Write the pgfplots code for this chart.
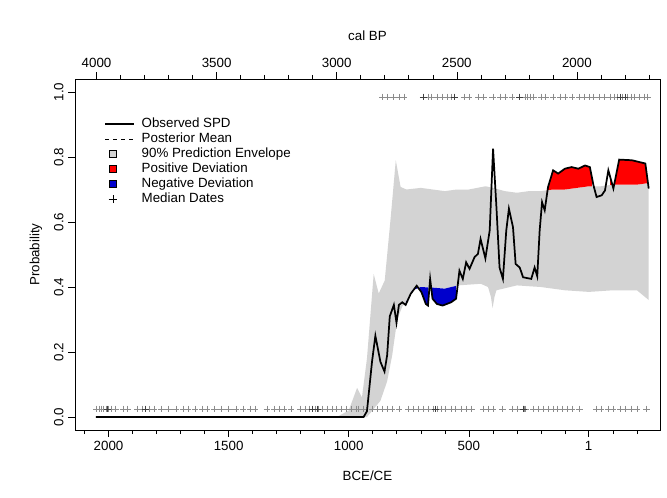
\documentclass[border=0pt]{standalone}
\usepackage{pgfplots}
\pgfplotsset{compat=1.18}
\usepgfplotslibrary{fillbetween}
\usepackage{fontspec}
\setmainfont{Liberation Sans}
\definecolor{envgray}{RGB}{211,211,211}
\begin{document}
\begin{tikzpicture}
\pgfplotsset{every axis/.style={scale only axis, width=438.75pt, height=263.25pt,
  xmin=-296, xmax=2140, x dir=reverse, ymin=-0.04, ymax=1.04,
  tick align=outside, major tick length=5pt, minor tick length=3pt,
  tick style={black, thin}, font=\fontsize{10}{12}\selectfont,
  /pgf/number format/assume math mode=true}}
\begin{axis}[
  axis x line*=bottom, axis y line*=left,
  xtick={2000,1500,1000,500,1}, xticklabels={2000,1500,1000,500,1},
  minor xtick={2100,1900,1800,1700,1600,1400,1300,1200,1100,900,800,700,600,400,300,200,100,-100,-200},
  ytick={0,0.2,0.4,0.6,0.8,1}, yticklabels={0.0,0.2,0.4,0.6,0.8,1.0},
  yticklabel style={rotate=90, anchor=south},
  xlabel={BCE/CE}, ylabel={Probability},
  xlabel style={yshift=-8pt}, ylabel style={yshift=2pt},
  clip=false,
  legend style={draw=none, fill=none, at={(rel axis cs:0.05,0.895)}, anchor=north west,
    font=\fontsize{10}{12}\selectfont, row sep=-0.5pt, inner sep=0pt,
    nodes={inner sep=1.5pt}},
  legend cell align=left,
]
\path (rel axis cs:-0.128,-0.191) rectangle (rel axis cs:1.012,1.225);
\draw[black] (rel axis cs:0,0) rectangle (rel axis cs:1,1);
\addlegendimage{legend image code/.code={\draw[line width=1.3pt,black] (0cm,0cm) -- (0.75cm,0cm); \path (0.9cm,0cm);}}\addlegendentry{Observed SPD}
\addlegendimage{legend image code/.code={\draw[dashed,black] (0cm,0cm) -- (0.75cm,0cm); \path (0.9cm,0cm);}}\addlegendentry{Posterior Mean}
\addlegendimage{legend image code/.code={\draw[fill=envgray,draw=black] (0.1cm,-0.1cm) rectangle (0.3cm,0.1cm);}}\addlegendentry{90\% Prediction Envelope}
\addlegendimage{legend image code/.code={\draw[fill=red,draw=black] (0.1cm,-0.1cm) rectangle (0.3cm,0.1cm);}}\addlegendentry{Positive Deviation}
\addlegendimage{legend image code/.code={\draw[fill=blue!80!black,draw=black] (0.1cm,-0.1cm) rectangle (0.3cm,0.1cm);}}\addlegendentry{Negative Deviation}
\addlegendimage{legend image code/.code={\draw[black] (0.2cm,-0.11cm) -- (0.2cm,0.11cm) (0.09cm,0cm) -- (0.31cm,0cm);}}\addlegendentry{Median Dates}

\addplot[name path=up, draw=none, forget plot] coordinates {
(2053,0) (1050,0) (1000,0.02) (965,0.09) (945,0.06) (924,0.18) (896,0.44) (875,0.38) (850,0.42) (825,0.615) (804,0.79) (784,0.708) (760,0.70) (700,0.705) (650,0.70) (600,0.695) (550,0.70) (500,0.70) (430,0.71) (400,0.705) (350,0.695) (300,0.69) (250,0.695) (200,0.695) (150,0.70) (100,0.70) (50,0.705) (0,0.71) (-50,0.71) (-100,0.715) (-200,0.715) (-249,0.72)};
\addplot[name path=lo, draw=none, forget plot] coordinates {
(2053,0) (924,0) (868,0.05) (840,0.11) (819,0.19) (798,0.30) (777,0.34) (756,0.36) (735,0.39) (700,0.40) (650,0.398) (600,0.395) (545,0.405) (450,0.41) (420,0.40) (408,0.37) (401,0.335) (393,0.37) (385,0.39) (300,0.405) (200,0.40) (100,0.39) (0,0.385) (-100,0.39) (-200,0.39) (-249,0.36)};
\addplot[envgray, forget plot] fill between[of=up and lo];

\addplot[name path=spd, draw=none, forget plot] coordinates {
(2053,0) (938,0) (924,0.018) (903,0.17) (889,0.25) (868,0.17) (851,0.14) (840,0.19) (829,0.31) (812,0.345) (801,0.29) (791,0.345) (777,0.353) (763,0.345) (742,0.379) (717,0.404) (697,0.384) (679,0.348) (670,0.343) (661,0.425) (651,0.364) (633,0.348) (609,0.343) (574,0.353) (553,0.364) (539,0.45) (525,0.425) (511,0.476) (497,0.456) (476,0.492) (462,0.502) (451,0.548) (431,0.488) (413,0.574) (399,0.826) (385,0.646) (372,0.46) (358,0.425) (344,0.574) (333,0.641) (316,0.584) (305,0.471) (288,0.46) (274,0.43) (240,0.425) (226,0.46) (215,0.433) (205,0.574) (195,0.661) (184,0.636) (170,0.708) (149,0.759) (128,0.749) (100,0.764) (72,0.769) (44,0.764) (16,0.774) (-4,0.769) (-19,0.713) (-32,0.677) (-53,0.682) (-67,0.697) (-81,0.759) (-102,0.703) (-126,0.792) (-179,0.79) (-207,0.785) (-235,0.78) (-249,0.703)};
\addplot[blue!80!black, forget plot] fill between[of=spd and lo, soft clip={domain=668:762}];
\addplot[blue!80!black, forget plot] fill between[of=spd and lo, soft clip={domain=553:655}];
\addplot[red, forget plot] fill between[of=spd and up, soft clip={domain=-12:175}];
\addplot[red, forget plot] fill between[of=spd and up, soft clip={domain=-249:-88}];

\addplot[black!45, only marks, mark=+, mark size=2.5pt, forget plot] coordinates {
(2050,0.025)(2040,0.025)(2030,0.025)(2020,0.025)(2010,0.025)(2000,0.025)(1990,0.025)(1970,0.025)(1940,0.025)(1920,0.025)(1880,0.025)(1860,0.025)(1845,0.025)(1830,0.025)(1810,0.025)(1780,0.025)(1750,0.025)(1720,0.025)(1690,0.025)(1670,0.025)(1640,0.025)(1610,0.025)(1590,0.025)(1560,0.025)(1530,0.025)(1500,0.025)(1470,0.025)(1440,0.025)(1410,0.025)(1390,0.025)(1340,0.025)(1310,0.025)(1290,0.025)(1270,0.025)(1240,0.025)(1200,0.025)(1180,0.025)(1165,0.025)(1150,0.025)(1140,0.025)(1125,0.025)(1110,0.025)(1090,0.025)(1070,0.025)(1050,0.025)(1030,0.025)(1010,0.025)(990,0.025)(970,0.025)(960,0.025)(940,0.025)(900,0.025)(880,0.025)(860,0.025)(840,0.025)(820,0.025)(790,0.025)(750,0.025)(730,0.025)(710,0.025)(690,0.025)(670,0.025)(650,0.025)(630,0.025)(615,0.025)(600,0.025)(575,0.025)(555,0.025)(530,0.025)(510,0.025)(490,0.025)(440,0.025)(420,0.025)(400,0.025)(360,0.025)(320,0.025)(300,0.025)(270,0.025)(265,0.025)(230,0.025)(210,0.025)(190,0.025)(170,0.025)(150,0.025)(130,0.025)(110,0.025)(90,0.025)(70,0.025)(40,0.025)(-30,0.025)(-50,0.025)(-80,0.025)(-100,0.025)(-130,0.025)(-150,0.025)(-175,0.025)(-200,0.025)(-240,0.025)};
\addplot[black!45, only marks, mark=+, mark size=2.5pt, forget plot] coordinates {
(860,0.985)(840,0.985)(815,0.985)(790,0.985)(770,0.985)(690,0.985)(670,0.985)(655,0.985)(630,0.985)(610,0.985)(590,0.985)(575,0.985)(560,0.985)(520,0.985)(500,0.985)(460,0.985)(440,0.985)(400,0.985)(370,0.985)(350,0.985)(320,0.985)(290,0.985)(265,0.985)(255,0.985)(245,0.985)(230,0.985)(200,0.985)(180,0.985)(150,0.985)(120,0.985)(100,0.985)(70,0.985)(40,0.985)(20,0.985)(0,0.985)(-20,0.985)(-45,0.985)(-65,0.985)(-90,0.985)(-105,0.985)(-120,0.985)(-140,0.985)(-160,0.985)(-175,0.985)(-190,0.985)(-210,0.985)(-230,0.985)(-245,0.985)};
\addplot[black!75, only marks, mark=+, mark size=2.5pt, forget plot] coordinates {
(2005,0.025)(1845,0.025)(1150,0.025)(1130,0.025)(640,0.025)(275,0.025)(272,0.025)(690,0.985)(560,0.985)(290,0.985)(-130,0.985)(-150,0.985)};

\addplot[black, line width=1.3pt, forget plot] coordinates {
(2053,0) (938,0) (924,0.018) (903,0.17) (889,0.25) (868,0.17) (851,0.14) (840,0.19) (829,0.31) (812,0.345) (801,0.29) (791,0.345) (777,0.353) (763,0.345) (742,0.379) (717,0.404) (697,0.384) (679,0.348) (670,0.343) (661,0.425) (651,0.364) (633,0.348) (609,0.343) (574,0.353) (553,0.364) (539,0.45) (525,0.425) (511,0.476) (497,0.456) (476,0.492) (462,0.502) (451,0.548) (431,0.488) (413,0.574) (399,0.826) (385,0.646) (372,0.46) (358,0.425) (344,0.574) (333,0.641) (316,0.584) (305,0.471) (288,0.46) (274,0.43) (240,0.425) (226,0.46) (215,0.433) (205,0.574) (195,0.661) (184,0.636) (170,0.708) (149,0.759) (128,0.749) (100,0.764) (72,0.769) (44,0.764) (16,0.774) (-4,0.769) (-19,0.713) (-32,0.677) (-53,0.682) (-67,0.697) (-81,0.759) (-102,0.703) (-126,0.792) (-179,0.79) (-207,0.785) (-235,0.78) (-249,0.703)};
\end{axis}
\begin{axis}[
  axis x line*=top, axis y line=none,
  xtick={2050,1550,1050,550,50}, xticklabels={4000,3500,3000,2500,2000},
  minor xtick={1950,1850,1750,1650,1450,1350,1250,1150,950,850,750,650,450,350,250,150,-50,-150,-250},
  xlabel={cal BP}, xlabel style={yshift=6pt},
]
\addplot[draw=none] coordinates {(0,0)};
\end{axis}
\end{tikzpicture}
\end{document}
